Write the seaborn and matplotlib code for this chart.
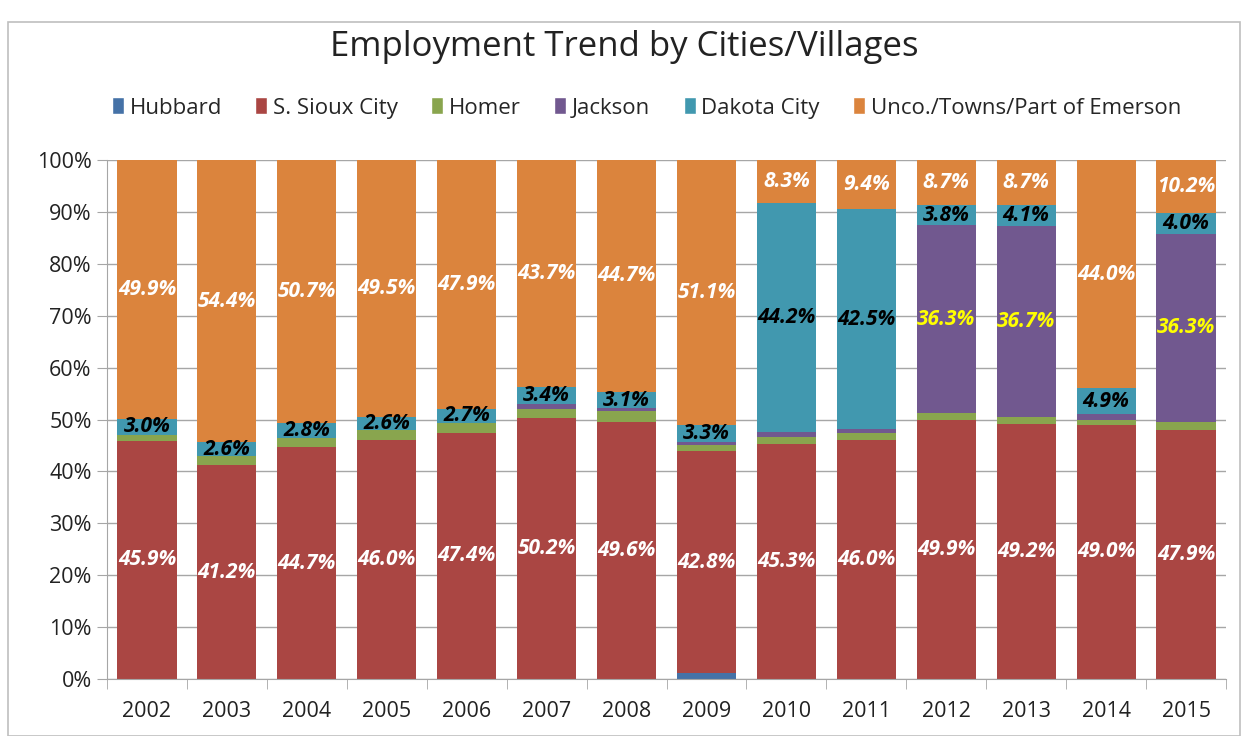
import numpy as np
import pandas as pd
import matplotlib
matplotlib.use("Agg")
import matplotlib.pyplot as plt
import seaborn as sns
from matplotlib.patches import Rectangle, Patch

years = ["2002", "2003", "2004", "2005", "2006", "2007", "2008",
         "2009", "2010", "2011", "2012", "2013", "2014", "2015"]
hubbard = [0.0, 0.0, 0.0, 0.0, 0.0, 0.0, 0.0, 1.1, 0.0, 0.0, 0.0, 0.0, 0.0, 0.0]
s_sioux = [45.9, 41.2, 44.7, 46.0, 47.4, 50.2, 49.6, 42.8, 45.3, 46.0, 49.9, 49.2, 49.0, 47.9]
homer = [1.2, 1.8, 1.8, 1.9, 2.0, 1.9, 2.0, 1.1, 1.4, 1.4, 1.3, 1.3, 1.0, 1.6]
jackson = [0.0, 0.0, 0.0, 0.0, 0.0, 0.8, 0.6, 0.6, 0.8, 0.7, 36.3, 36.7, 1.1, 36.3]
dakota = [3.0, 2.6, 2.8, 2.6, 2.7, 3.4, 3.1, 3.3, 44.2, 42.5, 3.8, 4.1, 4.9, 4.0]
unco = [49.9, 54.4, 50.7, 49.5, 47.9, 43.7, 44.7, 51.1, 8.3, 9.4, 8.7, 8.7, 44.0, 10.2]

series_names = ["Hubbard", "S. Sioux City", "Homer", "Jackson", "Dakota City",
                "Unco./Towns/Part of Emerson"]
colors = ["#4572A7", "#AA4643", "#89A54E", "#71588F", "#4198AF", "#DB843D"]

df = pd.DataFrame({"year": years, "Hubbard": hubbard, "S. Sioux City": s_sioux,
                   "Homer": homer, "Jackson": jackson, "Dakota City": dakota,
                   "Unco./Towns/Part of Emerson": unco})
vals = df[series_names].to_numpy()
vals = vals / vals.sum(axis=1, keepdims=True) * 100
cum = np.cumsum(vals, axis=1)

sns.set_style("white")
plt.rcParams["font.family"] = ["Open Sans", "DejaVu Sans"]

fig = plt.figure(figsize=(12.48, 7.36), dpi=100)
ax = fig.add_axes([107 / 1248, 1 - 679 / 736, (1226 - 107) / 1248, (679 - 160) / 736])

# stacked bars: draw cumulative totals from the top down
for k in range(len(series_names) - 1, -1, -1):
    sns.barplot(x=df["year"], y=cum[:, k], color=colors[k], width=0.74,
                saturation=1, linewidth=0, ax=ax, zorder=2)

# data labels
lab_style = {
    "S. Sioux City": "white",
    "Dakota City": "black",
    "Jackson": "#FFFF00",
    "Unco./Towns/Part of Emerson": "white",
}
for k, name in enumerate(series_names):
    if name not in lab_style:
        continue
    raw = df[name].to_numpy()
    for i in range(len(years)):
        if name == "Jackson" and raw[i] < 10:
            continue
        y = cum[i, k] - vals[i, k] / 2
        ax.text(i, y, f"{raw[i]:.1f}%", ha="center", va="center",
                color=lab_style[name], fontsize=15, fontweight="bold",
                fontstyle="italic", zorder=5)

ax.set_ylim(0, 100)
ax.set_xlim(-0.5, len(years) - 0.5)
ax.set_yticks(np.arange(0, 101, 10))
ax.set_yticklabels([f"{t}%" for t in range(0, 101, 10)], fontsize=15.5, color="#222222")
ax.set_xticks(range(len(years)))
ax.set_xticklabels(years, fontsize=15.5, color="#222222")
ax.set_xlabel("")
ax.set_ylabel("")
ax.yaxis.grid(True, color="#A6A6A6", linewidth=1, zorder=0)
ax.set_axisbelow(True)
for s in ["top", "right"]:
    ax.spines[s].set_visible(False)
ax.spines["left"].set_color("#A6A6A6")
ax.spines["bottom"].set_color("#A6A6A6")
ax.tick_params(axis="y", left=True, length=7, color="#A6A6A6", pad=4)
ax.tick_params(axis="x", bottom=False, pad=12)
# category boundary ticks on the x axis
ax.set_xticks(np.arange(-0.5, len(years), 1), minor=True)
ax.tick_params(axis="x", which="minor", bottom=True, length=7, color="#A6A6A6")

fig.text(0.5, 1 - 47 / 736, "Employment Trend by Cities/Villages", ha="center",
         va="center", fontsize=25, color="#222222")

handles = [Patch(facecolor=c, label=n) for n, c in zip(series_names, colors)]
fig.legend(handles=handles, loc="center", bbox_to_anchor=(0.518, 1 - 108 / 736),
           ncol=6, frameon=False, fontsize=16, handlelength=0.55, handleheight=0.8,
           handletextpad=0.25, columnspacing=1.5)

fig.patches.append(Rectangle((8 / 1248, 0), 1 - 16 / 1248, 1 - 22 / 736,
                             transform=fig.transFigure, fill=False,
                             edgecolor="#BFBFBF", linewidth=1.2))

fig.savefig("out.png", dpi=100)
